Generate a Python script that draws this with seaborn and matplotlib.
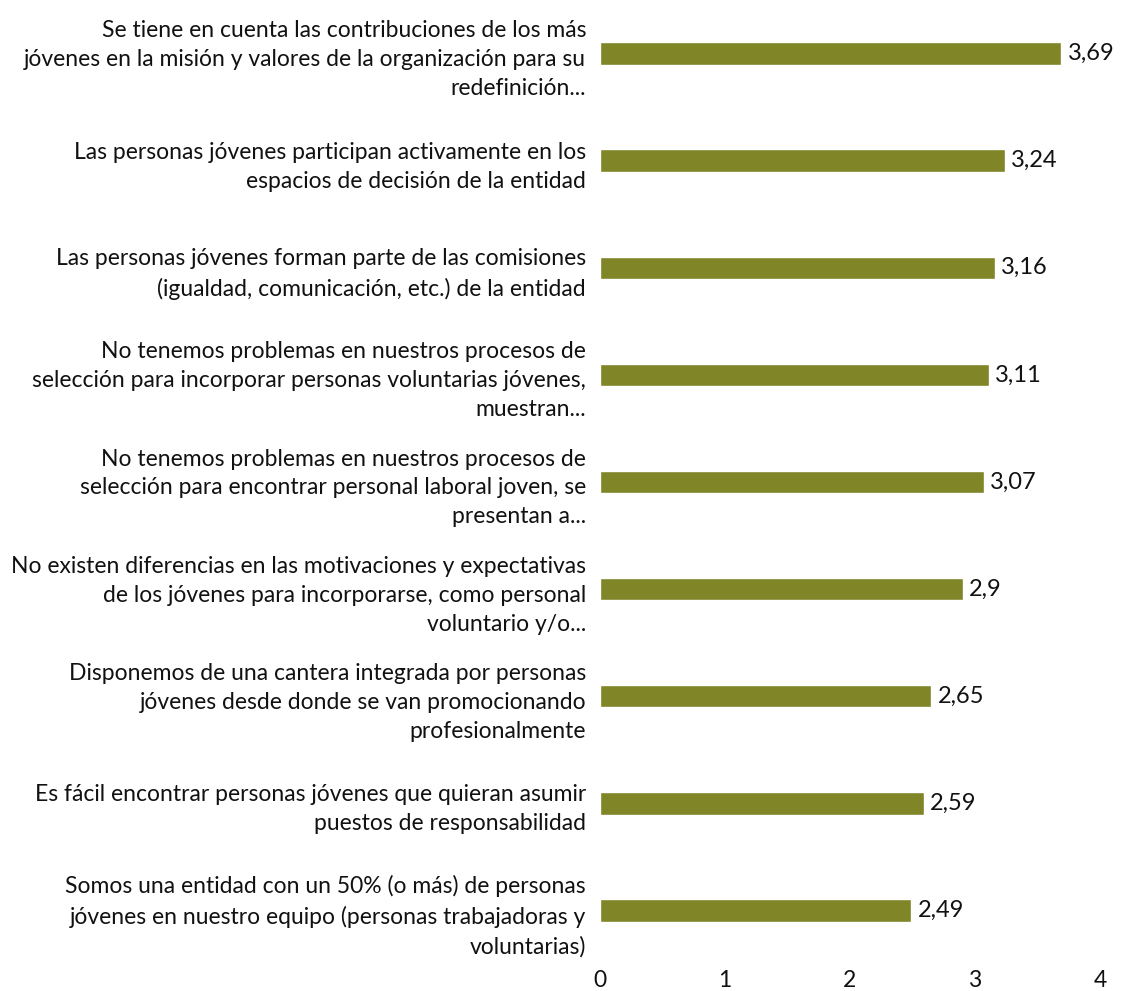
import matplotlib
matplotlib.use("Agg")
import matplotlib.pyplot as plt
import seaborn as sns
import pandas as pd

categories = [
    "Se tiene en cuenta las contribuciones de los más\njóvenes en la misión y valores de la organización para su\nredefinición...",
    "Las personas jóvenes participan activamente en los\nespacios de decisión de la entidad",
    "Las personas jóvenes forman parte de las comisiones\n(igualdad, comunicación, etc.) de la entidad",
    "No tenemos problemas en nuestros procesos de\nselección para incorporar personas voluntarias jóvenes,\nmuestran...",
    "No tenemos problemas en nuestros procesos de\nselección para encontrar personal laboral joven, se\npresentan a...",
    "No existen diferencias en las motivaciones y expectativas\nde los jóvenes para incorporarse, como personal\nvoluntario y/o...",
    "Disponemos de una cantera integrada por personas\njóvenes desde donde se van promocionando\nprofesionalmente",
    "Es fácil encontrar personas jóvenes que quieran asumir\npuestos de responsabilidad",
    "Somos una entidad con un 50% (o más) de personas\njóvenes en nuestro equipo (personas trabajadoras y\nvoluntarias)",
]
values = [3.69, 3.24, 3.16, 3.11, 3.07, 2.9, 2.65, 2.59, 2.49]
value_labels = ["3,69", "3,24", "3,16", "3,11", "3,07", "2,9", "2,65", "2,59", "2,49"]
x_ticks = [0, 1, 2, 3, 4]

sns.set_theme(style="white")
plt.rcParams['font.family'] = ['Lato', 'DejaVu Sans']

df = pd.DataFrame({"cat": categories, "val": values})

FS = 16.5
fig = plt.figure(figsize=(11.22, 9.91), dpi=100)
top_px, bot_px = 0, 964
ax = fig.add_axes([600/1122, 1 - bot_px/991, (1100-600)/1122, (bot_px-top_px)/991])

sns.barplot(data=df, y="cat", x="val", orient="h", color="#808527",
            width=0.21, saturation=1, ax=ax)

for i, (v, lab) in enumerate(zip(values, value_labels)):
    ax.annotate(lab, xy=(v, i), xytext=(4.5, 0), textcoords="offset points",
                ha="left", va="center", fontsize=FS + 0.5, color="#111111")

ax.set_xlim(0, 4)
ax.set_ylim(len(categories) - 0.5, -0.5)
ax.set_xticks(x_ticks)
ax.set_xticklabels([str(t) for t in x_ticks], fontsize=FS, color="#111111")
ax.set_xlabel("")
ax.set_ylabel("")
for lab in ax.get_yticklabels():
    lab.set_fontsize(FS)
    lab.set_color("#111111")
    lab.set_linespacing(1.47)
    lab.set_multialignment("right")
ax.tick_params(axis="y", length=0, pad=10)
ax.tick_params(axis="x", length=0, pad=4)
for s in ax.spines.values():
    s.set_visible(False)
ax.grid(False)

fig.savefig("out.png", dpi=100)
